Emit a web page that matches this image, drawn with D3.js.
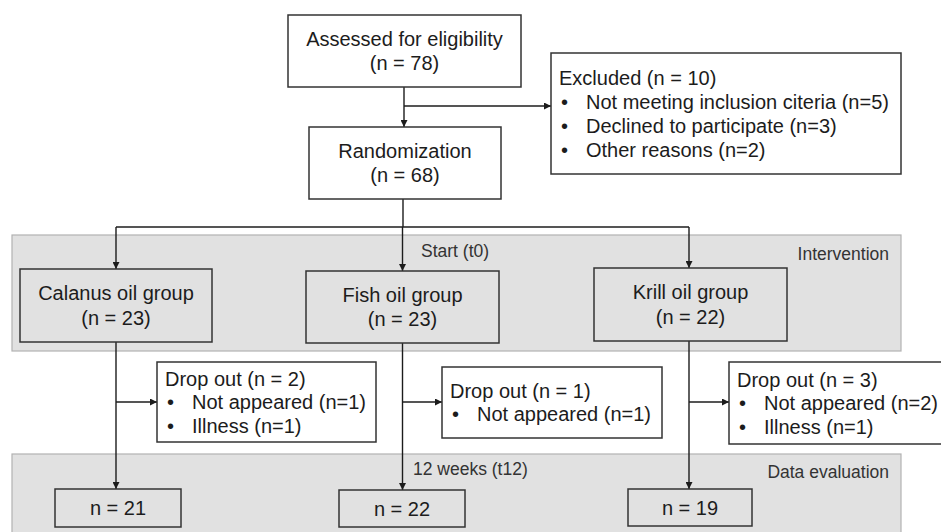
<!DOCTYPE html>
<html>
<head>
<meta charset="utf-8">
<script src="https://cdn.jsdelivr.net/npm/d3@7"></script>
<style>
  html, body { margin: 0; padding: 0; background: #ffffff; }
  svg { display: block; }
  text { font-family: "Liberation Sans", Arial, Helvetica, sans-serif; }
</style>
</head>
<body>
<div id="chart"></div>
<script>
// ---------- data ----------
const screeningTitles = ["Assessed for eligibility", "Randomization"];
const screeningCounts = [78, 68];
const excludedTotal = 10;
const excludedReasons = ["Not meeting inclusion citeria", "Declined to participate", "Other reasons"];
const excludedCounts = [5, 3, 2];
const groups = ["Calanus oil group", "Fish oil group", "Krill oil group"];
const groupStartCounts = [23, 23, 22];
const dropTotals = [2, 1, 3];
const dropReasons = [["Not appeared", "Illness"], ["Not appeared"], ["Not appeared", "Illness"]];
const dropCounts = [[1, 1], [1], [2, 1]];
const groupEndCounts = [21, 22, 19];
const phaseLabels = ["Intervention", "Data evaluation"];
const timeLabels = ["Start (t0)", "12 weeks (t12)"];

// ---------- layout (geometry only) ----------
const W = 941, H = 532;
const svg = d3.select("#chart").append("svg").attr("width", W).attr("height", H);

const xGroup = d3.scalePoint().domain(groups).range([116, 689]);

const INK = "#1c1c1c";
const BOX_STROKE = "#333333";

svg.append("defs").append("marker")
  .attr("id", "arr")
  .attr("viewBox", "0 0 10 10")
  .attr("refX", 10).attr("refY", 5)
  .attr("markerWidth", 7).attr("markerHeight", 7)
  .attr("markerUnits", "userSpaceOnUse")
  .attr("orient", "auto")
  .append("path").attr("d", "M0,0 L10,5 L0,10 z").attr("fill", INK);

// bands
const bands = [
  {x0: 12, x1: 901, y0: 235, y1: 351},
  {x0: 12, x1: 901, y0: 454, y1: 545}
];
svg.selectAll("rect.band").data(bands).join("rect")
  .attr("class", "band")
  .attr("x", d => d.x0).attr("y", d => d.y0)
  .attr("width", d => d.x1 - d.x0).attr("height", d => d.y1 - d.y0)
  .attr("fill", "#e1e1e1").attr("stroke", "#b2b2b2").attr("stroke-width", 1.2);

const phaseY = [260, 478];
svg.selectAll("text.phase").data(phaseLabels).join("text")
  .attr("class", "phase")
  .attr("x", 889).attr("y", (d, i) => phaseY[i])
  .attr("text-anchor", "end").attr("font-size", 17.5).attr("fill", "#333")
  .text(d => d);

const timeX = [421, 413], timeY = [257, 475];
svg.selectAll("text.time").data(timeLabels).join("text")
  .attr("class", "time")
  .attr("x", (d, i) => timeX[i]).attr("y", (d, i) => timeY[i])
  .attr("font-size", 17.5).attr("fill", "#333")
  .text(d => d);

// helpers
function line(x1, y1, x2, y2, arrow) {
  const l = svg.append("line")
    .attr("x1", x1).attr("y1", y1).attr("x2", x2).attr("y2", y2)
    .attr("stroke", INK).attr("stroke-width", 1.4);
  if (arrow) l.attr("marker-end", "url(#arr)");
  return l;
}
function box(b) {
  svg.append("rect")
    .attr("x", b.x0).attr("y", b.y0)
    .attr("width", b.x1 - b.x0).attr("height", b.y1 - b.y0)
    .attr("fill", b.fill || "none").attr("stroke", BOX_STROKE).attr("stroke-width", 1.5);
}
function centeredText(b, lines, lh) {
  const cx = (b.x0 + b.x1) / 2, cy = (b.y0 + b.y1) / 2;
  const n = lines.length;
  svg.selectAll(null).data(lines).enter().append("text")
    .attr("x", cx).attr("y", (d, i) => cy + (i - (n - 1) / 2) * lh + 7)
    .attr("text-anchor", "middle").attr("font-size", 20).attr("fill", INK)
    .text(d => d);
}
function listText(b, title, items, lh) {
  const cy = (b.y0 + b.y1) / 2;
  const n = items.length + 1;
  const yAt = i => cy + (i - (n - 1) / 2) * lh + 7;
  svg.append("text").attr("x", b.x0 + 8).attr("y", yAt(0))
    .attr("font-size", 20).attr("fill", INK).text(title);
  items.forEach((t, i) => {
    svg.append("text").attr("x", b.x0 + 10).attr("y", yAt(i + 1))
      .attr("font-size", 20).attr("fill", INK).text("\u2022");
    svg.append("text").attr("x", b.x0 + 35).attr("y", yAt(i + 1))
      .attr("font-size", 20).attr("fill", INK).text(t);
  });
}

// screening boxes
const screenBoxes = [
  {x0: 288, x1: 521, y0: 15, y1: 87, fill: "#fff"},
  {x0: 309, x1: 501, y0: 127, y1: 199, fill: "#fff"}
];
const exclBox = {x0: 551, x1: 901, y0: 53, y1: 174, fill: "#fff"};

line(404, 87, 404, 127, true);
line(404, 106, 551, 106, true);
line(403, 199, 403, 227, false);
line(xGroup(groups[0]), 227, xGroup(groups[2]), 227, false);

screenBoxes.forEach((b, i) => {
  box(b);
  centeredText(b, [screeningTitles[i], `(n = ${screeningCounts[i]})`], 24.5);
});
box(exclBox);
listText(exclBox, `Excluded (n = ${excludedTotal})`,
  excludedReasons.map((r, i) => `${r} (n=${excludedCounts[i]})`), 24);

// group boxes
const groupBoxes = [
  {x0: 20, x1: 212, y0: 269, y1: 342},
  {x0: 306, x1: 499, y0: 271, y1: 343},
  {x0: 594, x1: 787, y0: 268, y1: 341}
];
const dropBoxes = [
  {x0: 157, x1: 376, y0: 362, y1: 442, fill: "#fff"},
  {x0: 442, x1: 662, y0: 367, y1: 438, fill: "#fff"},
  {x0: 729, x1: 960, y0: 362, y1: 444, fill: "#fff"}
];
const endBoxes = [
  {x0: 55, x1: 181, y0: 489, y1: 527},
  {x0: 339, x1: 465, y0: 490, y1: 527},
  {x0: 628, x1: 752, y0: 489, y1: 526}
];
const branchY = 402;

groups.forEach((g, i) => {
  const x = xGroup(g);
  line(x, 227, x, groupBoxes[i].y0, true);
  line(x, groupBoxes[i].y1, x, endBoxes[i].y0, true);
  line(x, branchY, dropBoxes[i].x0, branchY, true);

  box(groupBoxes[i]);
  centeredText(groupBoxes[i], [g, `(n = ${groupStartCounts[i]})`], 24.5);

  box(dropBoxes[i]);
  listText(dropBoxes[i], `Drop out (n = ${dropTotals[i]})`,
    dropReasons[i].map((r, j) => `${r} (n=${dropCounts[i][j]})`), 23.5);

  box(endBoxes[i]);
  const eb = endBoxes[i];
  svg.append("text")
    .attr("x", (eb.x0 + eb.x1) / 2).attr("y", (eb.y0 + eb.y1) / 2 + 7)
    .attr("text-anchor", "middle").attr("font-size", 20).attr("fill", INK)
    .text(`n = ${groupEndCounts[i]}`);
});
</script>
</body>
</html>
